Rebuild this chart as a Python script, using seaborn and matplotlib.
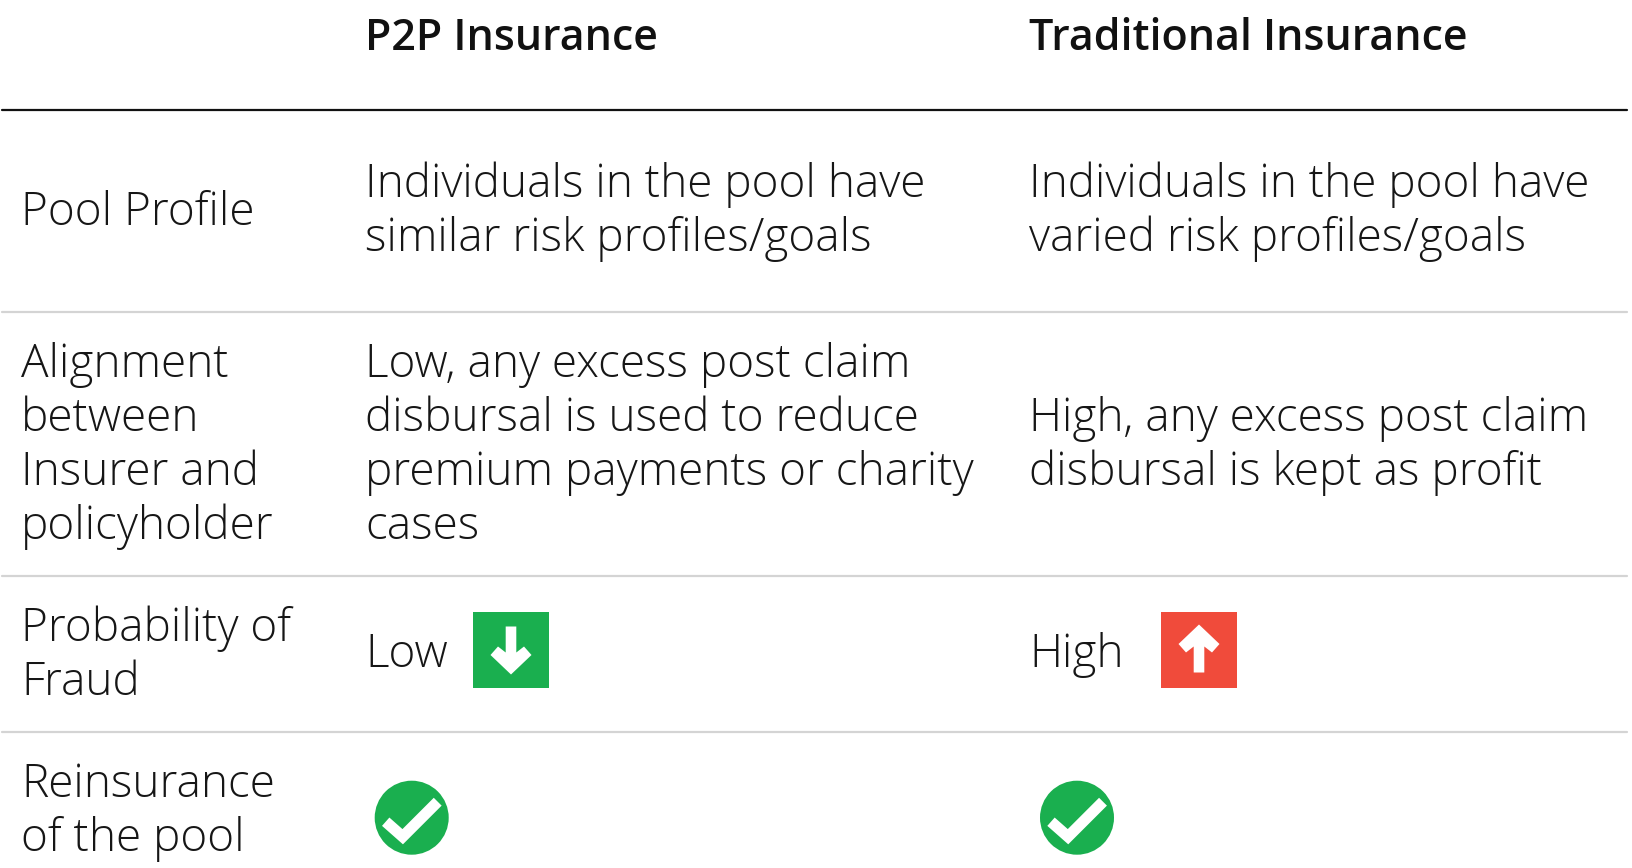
import matplotlib
matplotlib.use("Agg")
import matplotlib.pyplot as plt
import seaborn as sns
from matplotlib.patches import Rectangle, Circle, Polygon

sns.set_theme(style="white")
plt.rcParams['font.family'] = ['Open Sans', 'DejaVu Sans']

headers = ["P2P Insurance", "Traditional Insurance"]
row_labels = [["Pool Profile"],
              ["Alignment", "between", "Insurer and", "policyholder"],
              ["Probability of", "Fraud"],
              ["Reinsurance", "of the pool"]]
p2p_cells = [["Individuals in the pool have", "similar risk profiles/goals"],
             ["Low, any excess post claim", "disbursal is used to reduce", "premium payments or charity", "cases"],
             ["Low"], []]
trad_cells = [["Individuals in the pool have", "varied risk profiles/goals"],
              ["High, any excess post claim", "disbursal is kept as profit"],
              ["High"], []]
label_centers = [213, 446, 656, 812]
cell_centers = [212, 446, 655, 812]
rule_ys = [312, 576, 732]
header_rule_y = 110
col_x = [21, 365, 1029]
FS = 33
LH = 54
INK = "#161616"
GREEN = "#1aaf4f"
RED = "#f04b3b"

fig = plt.figure(figsize=(16.32, 8.68), dpi=100)
ax = fig.add_axes([0, 0, 1, 1])
ax.set_xlim(0, 1632); ax.set_ylim(868, 0); ax.axis("off")

for x, h in zip(col_x[1:], headers):
    ax.text(x, 39, h, fontsize=31, fontweight="semibold", color="#111111", va="center", ha="left")
ax.plot([2, 1627], [header_rule_y]*2, color="#111111", lw=1.6)
for y in rule_ys:
    ax.plot([2, 1627], [y, y], color="#d4d4d4", lw=1.6)

def block(x, lines, yc):
    for i, t in enumerate(lines):
        ax.text(x, yc + (i - (len(lines)-1)/2)*LH, t, fontsize=FS, fontweight="light",
                color=INK, va="center", ha="left")

for lines, yc in zip(row_labels, label_centers):
    block(col_x[0], lines, yc)
for cx, rows in zip(col_x[1:], [p2p_cells, trad_cells]):
    for lines, yc in zip(rows, cell_centers):
        block(cx, lines, yc)

def arrow_box(x, y, s, col, up):
    ax.add_patch(Rectangle((x, y), s, s, fc=col, ec="none"))
    cx, cy = x+s/2, y+s/2
    d = -1 if up else 1
    pts = [(cx-5.3, cy-23*d), (cx+5.3, cy-23*d), (cx+5.3, cy+3*d), (cx+13, cy-3*d),
           (cx+20.5, cy+5.5*d), (cx, cy+25*d), (cx-20.5, cy+5.5*d), (cx-13, cy-3*d), (cx-5.3, cy+3*d)]
    ax.add_patch(Polygon(pts, closed=True, fc="white", ec="none"))

arrow_box(473, 611.5, 76, GREEN, False)
arrow_box(1161, 611.5, 76, RED, True)

def check(cx, cy):
    ax.add_patch(Circle((cx, cy), 37, fc=GREEN, ec="none"))
    ax.plot([cx-26, cx-9, cx+26], [cy+4, cy+19, cy-16], color="white", lw=8,
            solid_capstyle="butt", solid_joinstyle="miter")

check(411.7, 817.7)
check(1077, 817.7)
fig.savefig("out.png", dpi=100, facecolor="white")
